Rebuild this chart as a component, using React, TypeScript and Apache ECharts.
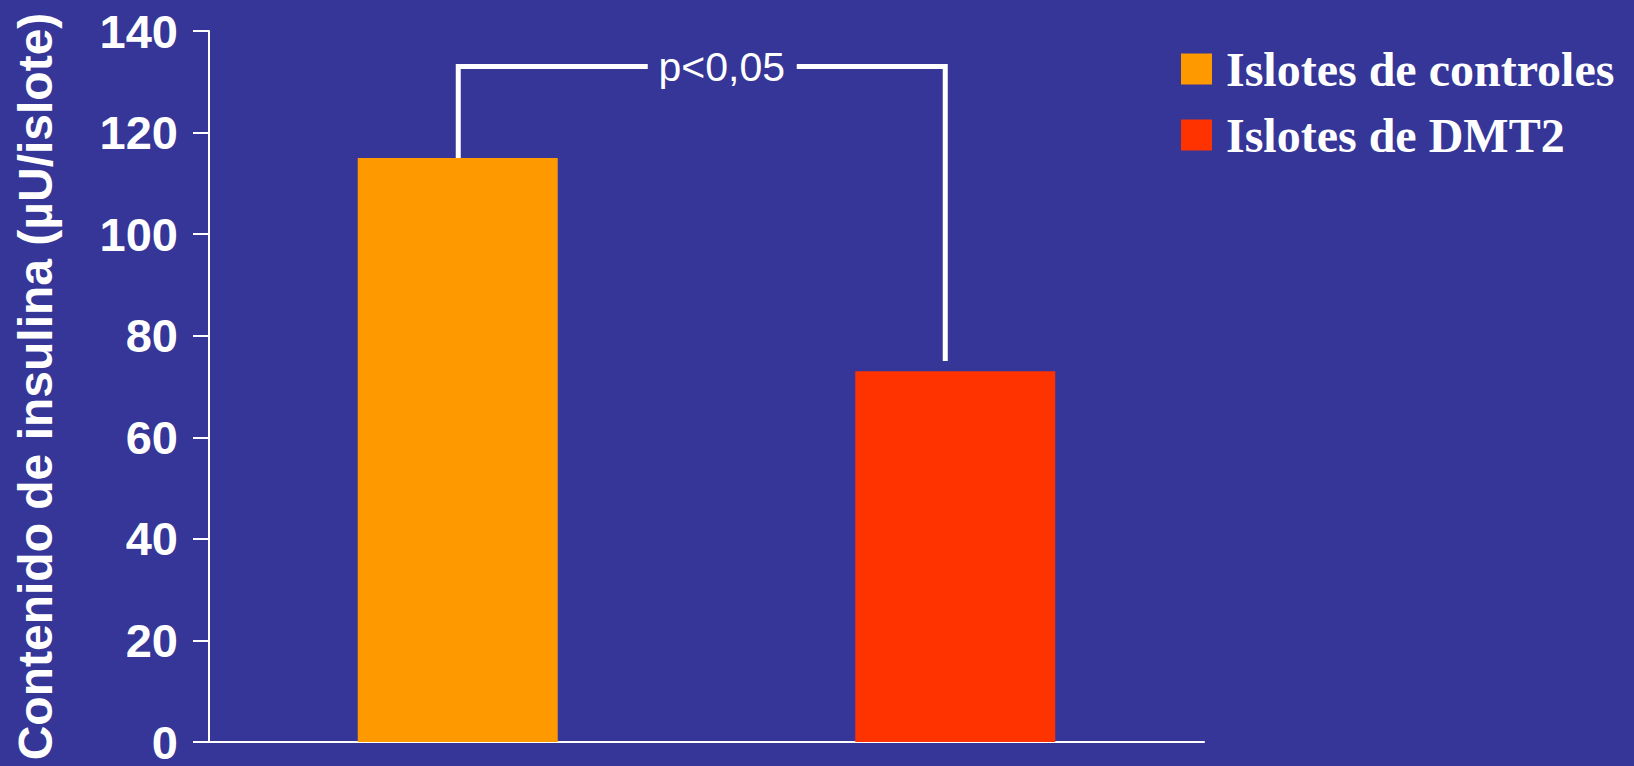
import React, { useEffect, useRef } from "react";
import * as echarts from "echarts";

const categories = ["Islotes de controles", "Islotes de DMT2"];
const controlValues: (number | string)[] = [115, "-"];
const dmt2Values: (number | string)[] = ["-", 73];
const yTicks = { min: 0, max: 140, interval: 20 };
const yAxisName = "Contenido de insulina (µU/islote)";
const bracketTop = 133;
const bracketLeftEnd = 115;
const bracketRightEnd = 75;
const pLabel = "p<0,05";

const BG = "#363698";
const SANS = "'Liberation Sans', Arial, sans-serif";
const SERIF = "'Liberation Serif', 'Times New Roman', serif";

export default function App() {
  const ref = useRef<HTMLDivElement>(null);
  useEffect(() => {
    if (!ref.current) return;
    const chart = echarts.init(ref.current, undefined, { renderer: "svg" });
    chart.setOption({
      animation: false,
      backgroundColor: BG,
      grid: { left: 209, right: 430, top: 31, bottom: 24, containLabel: false },
      legend: {
        left: 1181,
        top: 45,
        padding: 0,
        orient: "vertical",
        icon: "rect",
        itemWidth: 31,
        itemHeight: 31,
        itemGap: 18,
        data: categories,
        textStyle: {
          color: "#ffffff",
          fontFamily: SERIF,
          fontWeight: "bold",
          fontSize: 48,
          lineHeight: 31,
          padding: [5, 0, 0, 9],
        },
      },
      xAxis: {
        type: "category",
        data: categories,
        axisLine: { lineStyle: { color: "#ffffff", width: 2 } },
        axisTick: { show: false },
        axisLabel: { show: false },
      },
      yAxis: {
        type: "value",
        min: yTicks.min,
        max: yTicks.max,
        interval: yTicks.interval,
        name: yAxisName,
        nameLocation: "middle",
        nameGap: 150,
        nameTextStyle: {
          color: "#ffffff",
          fontFamily: SANS,
          fontWeight: "bold",
          fontSize: 48,
        },
        axisLine: { show: true, lineStyle: { color: "#ffffff", width: 2 } },
        axisTick: { show: true, length: 16, lineStyle: { color: "#ffffff", width: 2 } },
        splitLine: { show: false },
        axisLabel: {
          color: "#ffffff",
          fontFamily: SANS,
          fontWeight: "bold",
          fontSize: 47,
          margin: 31,
          padding: [11, 0, 0, 0],
        },
      },
      series: [
        {
          name: categories[0],
          type: "bar",
          data: controlValues,
          barWidth: 200,
          barGap: "-100%",
          itemStyle: { color: "#FF9900" },
        },
        {
          name: categories[1],
          type: "bar",
          data: dmt2Values,
          barWidth: 200,
          barGap: "-100%",
          itemStyle: { color: "#FF3300" },
        },
      ],
    });

    const [xL, yL] = chart.convertToPixel({ gridIndex: 0 }, [0, bracketLeftEnd]) as number[];
    const [xR0, yR] = chart.convertToPixel({ gridIndex: 0 }, [1, bracketRightEnd]) as number[];
    const [, yT] = chart.convertToPixel({ gridIndex: 0 }, [0, bracketTop]) as number[];
    const xLeft = xL + 0.5;
    const xRight = xR0 - 10;
    const xText = (xLeft + xRight) / 2 + 20;
    const lineStyle = { stroke: "#ffffff", lineWidth: 5, fill: null, lineJoin: "miter", lineCap: "butt" };
    chart.setOption({
      graphic: [
        {
          type: "polyline",
          shape: { points: [[xLeft, yL], [xLeft, yT], [xText - 74, yT]] },
          style: lineStyle,
        },
        {
          type: "polyline",
          shape: { points: [[xText + 75, yT], [xRight, yT], [xRight, yR]] },
          style: lineStyle,
        },
        {
          type: "text",
          x: xText,
          y: yT,
          style: {
            text: pLabel,
            fill: "#ffffff",
            font: `41px ${SANS}`,
            align: "center",
            verticalAlign: "middle",
          },
        },
      ],
    });
    return () => chart.dispose();
  }, []);
  return (
    <div
      ref={ref}
      style={{ position: "fixed", left: 0, top: 0, width: 1634, height: 766 }}
    />
  );
}
